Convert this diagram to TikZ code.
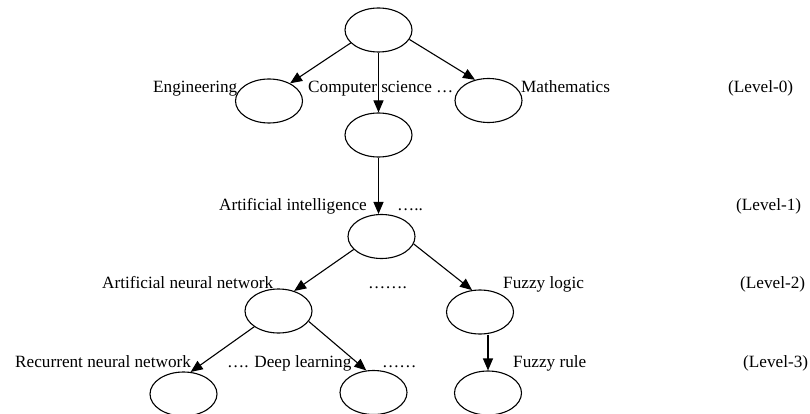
\documentclass[tikz,border=0pt]{standalone}
\usepackage{fontspec}
\setmainfont{Liberation Serif}
\usetikzlibrary{shapes.geometric,arrows.meta}
\tikzset{
  oval/.style={draw, ellipse, line width=1.1pt, minimum width=67pt, minimum height=44pt, inner sep=0pt},
  lbl/.style={anchor=base west, inner sep=0pt, font=\fontsize{17.2}{20}\selectfont},
  arr/.style={line width=1.1pt, -{Triangle[length=12pt,width=10pt]}}
}
\begin{document}
\begin{tikzpicture}[x=1pt,y=-1pt]
\useasboundingbox (0,0) rectangle (810,414);
% ovals
\node[oval] (top) at (378.5,30) {};
\node[oval] (eng) at (269,101) {};
\node[oval] (cs) at (378.5,135) {};
\node[oval] (math) at (488.5,100.5) {};
\node[oval] (ai) at (381.5,236.5) {};
\node[oval] (ann) at (278.5,311) {};
\node[oval] (fl) at (480,312) {};
\node[oval] (rnn) at (183.5,394) {};
\node[oval] (dl) at (373.5,392.5) {};
\node[oval] (fr) at (488,393) {};
% labels
\node[lbl] (tEng) at (153,93) {Engineering};
\node[lbl] (tCS) at (308,93) {Computer science …};
\node[lbl] (tMath) at (521,93) {Mathematics};
\node[lbl] (tL0) at (728,93) {(Level-0)};
\node[lbl] (tAI) at (219,210) {Artificial intelligence};
\node[lbl] (tAId) at (397,210) {…..};
\node[lbl] (tL1) at (736,210) {(Level-1)};
\node[lbl] (tANN) at (102,288) {Artificial neural network};
\node[lbl] (tANNd) at (368,288) {…….};
\node[lbl] (tFL) at (503,288) {Fuzzy logic};
\node[lbl] (tL2) at (740,288) {(Level-2)};
\node[lbl] (tRNN) at (15,367) {Recurrent neural network};
\node[lbl] (tDL) at (227,367) {…. Deep learning};
\node[lbl] (tDLd) at (382,367) {……};
\node[lbl] (tFR) at (513,367) {Fuzzy rule};
\node[lbl] (tL3) at (743,367) {(Level-3)};
% connectors
\draw[arr] (top.205) -- (eng.40);
\draw[arr] (top.south) -- (cs.north);
\draw[arr] (top.343) -- (math.123);
\draw[arr] (cs.south) -- (cs.south |- ai.north);
\draw[arr] (ai.205) -- (ann.52);
\draw[arr] (ai.347) -- (fl.110);
\draw[arr] (ann.213) -- (rnn.72);
\draw[arr] (ann.341) -- (dl.108);
\draw[arr] (fr.north |- fl.south) -- (fr.north);
\end{tikzpicture}
\end{document}
